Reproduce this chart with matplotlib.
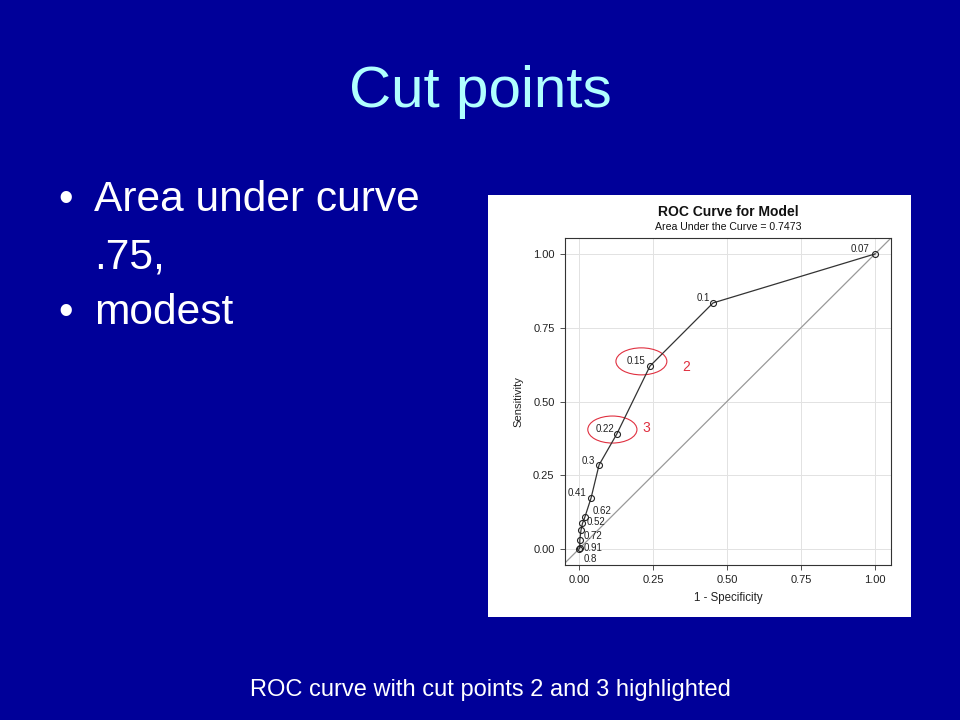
import matplotlib.pyplot as plt
from matplotlib.patches import Rectangle, Ellipse

plt.rcParams['font.family'] = ['Liberation Sans', 'DejaVu Sans']

# ROC points (1 - specificity, sensitivity)
fpr = [1.0, 0.453, 0.240, 0.128, 0.068, 0.041, 0.020, 0.012, 0.007, 0.003, 0.003, 0.0]
tpr = [1.0, 0.834, 0.620, 0.390, 0.285, 0.173, 0.108, 0.087, 0.064, 0.031, 0.005, 0.0]
# cut point labels: index into the points above, text
cut_idx = [0, 1, 2, 3, 4, 5, 6, 7, 9, 10, 11]
cut_labels = ['0.07', '0.1', '0.15', '0.22', '0.3', '0.41', '0.62', '0.52', '0.72', '0.91', '0.8']
# label offsets in pixels (dx, dy up)
label_off = [(-15, 5), (-10, 5), (-14, 5), (-12, 5), (-11, 4), (-14, 5),
             (17, 6), (14, 1), (13, 4), (13, 0), (11, -10)]
ticks = [0.0, 0.25, 0.5, 0.75, 1.0]
tick_labels = ['0.00', '0.25', '0.50', '0.75', '1.00']

bg = '#000099'
fig = plt.figure(figsize=(9.6, 7.2), dpi=100)
fig.patch.set_facecolor(bg)

fig.text(0.5, 1 - 92 / 720, 'Cut points', color='#b0ffff', fontsize=42,
         ha='center', va='center')

fig.text(58 / 960, 1 - 200 / 720, '•', color='white', fontsize=30, ha='left', va='center')
fig.text(94 / 960, 1 - 200 / 720, 'Area under curve', color='white', fontsize=30.6,
         ha='left', va='center')
fig.text(94 / 960, 1 - 257 / 720, '.75,', color='white', fontsize=30.6, ha='left', va='center')
fig.text(58 / 960, 1 - 313 / 720, '•', color='white', fontsize=30, ha='left', va='center')
fig.text(94 / 960, 1 - 313 / 720, 'modest', color='white', fontsize=30.6, ha='left', va='center')

fig.text(490 / 960, 1 - 690 / 720, 'ROC curve with cut points 2 and 3 highlighted',
         color='white', fontsize=17, ha='center', va='center')

# white panel behind the chart
fig.patches.append(Rectangle((488 / 960, 1 - 617 / 720), 423 / 960, 422 / 720,
                             transform=fig.transFigure, facecolor='white',
                             edgecolor='none', zorder=-5))

ax = fig.add_axes([565 / 960, 1 - 565 / 720, 326 / 960, 327 / 720])
ax.set_zorder(2)
ax.set_facecolor('white')
ax.set_xlim(-0.047, 1.054)
ax.set_ylim(-0.054, 1.054)
ax.set_xticks(ticks)
ax.set_xticklabels(tick_labels)
ax.set_yticks(ticks)
ax.set_yticklabels(tick_labels)
ax.tick_params(labelsize=8, length=3.5, width=0.6, color='#333333', pad=4,
               labelcolor='#222222')
ax.grid(True, color='#e2e2e2', linewidth=0.7)
ax.set_axisbelow(True)
for s in ax.spines.values():
    s.set_color('#333333')
    s.set_linewidth(0.8)

ax.axline((0, 0), (1, 1), color='#999999', linewidth=0.9, zorder=1)
ax.plot(fpr, tpr, color='#333333', linewidth=0.9, marker='o', markersize=4.3,
        markerfacecolor='none', markeredgecolor='#222222', markeredgewidth=0.8, zorder=3)

for i, lab, (dx, dy) in zip(cut_idx, cut_labels, label_off):
    ax.annotate(lab, (fpr[i], tpr[i]), xytext=(dx * 0.72, dy * 0.72),
                textcoords='offset points', fontsize=7, ha='center', va='center',
                color='#222222')

red = '#e03040'
ax.add_patch(Ellipse((0.211, 0.636), 0.172, 0.0915, fill=False, edgecolor=red, linewidth=0.8))
ax.add_patch(Ellipse((0.113, 0.405), 0.166, 0.0915, fill=False, edgecolor=red, linewidth=0.8))
ax.text(0.361, 0.617, '2', color=red, fontsize=10, ha='center', va='center')
ax.text(0.226, 0.41, '3', color=red, fontsize=10, ha='center', va='center')

ax.set_xlabel('1 - Specificity', fontsize=8.3, labelpad=5, color='#222222')
ax.set_ylabel('Sensitivity', fontsize=8.1, labelpad=7, color='#222222')

fig.text(728 / 960, 1 - 212 / 720, 'ROC Curve for Model', fontsize=10, fontweight='bold',
         ha='center', va='center', color='#111111')
fig.text(728 / 960, 1 - 227 / 720, 'Area Under the Curve = 0.7473', fontsize=7.6,
         ha='center', va='center', color='#111111')

fig.savefig('out.png', dpi=100, facecolor=bg)
